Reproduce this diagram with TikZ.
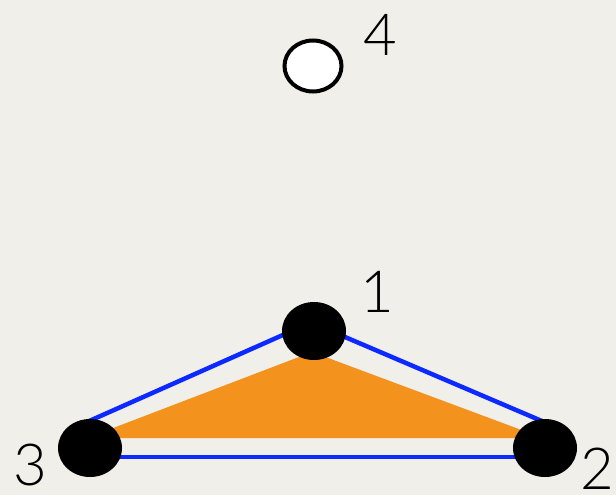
\documentclass[tikz,border=0pt]{standalone}
\usepackage{fontspec}
\setmainfont{Lato}[UprightFont=* Light]
\usetikzlibrary{shapes.geometric}
\definecolor{paper}{RGB}{241,239,234}
\definecolor{edgeblue}{RGB}{12,42,255}
\definecolor{fillorange}{RGB}{243,146,28}
\begin{document}
\begin{tikzpicture}[x=1pt,y=-1pt,
  vertex/.style={ellipse,fill=black,minimum width=64pt,minimum height=58pt,inner sep=0pt},
  openvertex/.style={ellipse,draw=black,line width=4pt,fill=white,minimum width=57pt,minimum height=51pt,inner sep=0pt},
  lbl/.style={inner sep=0pt,font=\fontsize{58}{60}\selectfont},
  edge/.style={draw=edgeblue,line width=4.5pt}]
\fill[paper] (0,0) rectangle (616,495);
\useasboundingbox (0,0) rectangle (616,495);
% face and edge ends
\coordinate (t1) at (312,352);
\coordinate (t2) at (543,438);
\coordinate (t3) at (87,438);
\coordinate (e1) at (311,322.5);
\coordinate (e2) at (550,424.5);
\coordinate (e3) at (87,422);
\coordinate (b3) at (100,457);
\coordinate (b2) at (540,457);
\fill[fillorange] (t3) -- (t1) -- (t2) -- cycle;
\draw[edge] (e3) -- (e1) -- (e2);
\draw[edge] (b3) -- (b2);
% vertices
\node[vertex] (n1) at (314,331) {};
\node[vertex] (n2) at (545,448) {};
\node[vertex] (n3) at (90,448) {};
\node[openvertex] (n4) at (313,66) {};
% labels
\node[lbl] (l1) at (377,292) {1};
\node[lbl] (l2) at (597,469) {2};
\node[lbl] (l3) at (30,465) {3};
\node[lbl] (l4) at (380,35) {4};
\end{tikzpicture}
\end{document}
